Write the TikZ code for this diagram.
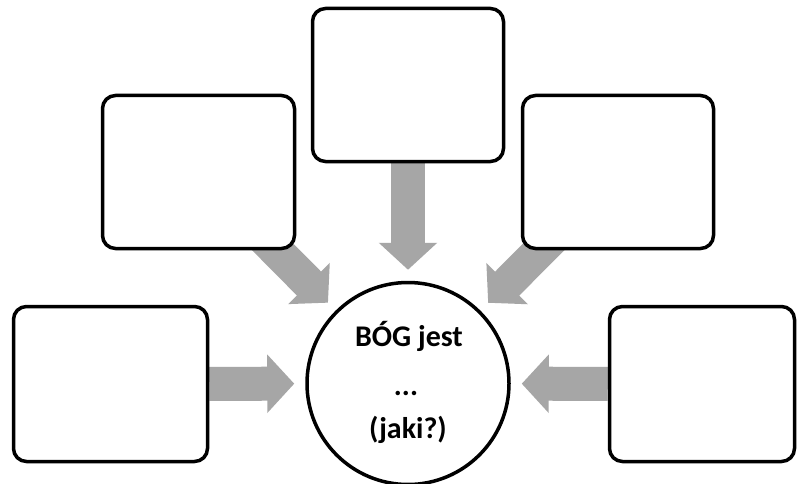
\documentclass[tikz,border=0pt]{standalone}
\usepackage{fontspec}
\setmainfont{Carlito}
\usetikzlibrary{arrows.meta,backgrounds}
\definecolor{arrowgray}{RGB}{166,166,166}
\begin{document}
\begin{tikzpicture}[x=1pt,y=-1pt,
  box/.style={draw=black, line width=3.5pt, fill=white, rounded corners=13pt, inner sep=0pt},
  hub/.style={circle, draw=black, line width=3.5pt, fill=white, inner sep=0pt, minimum size=202pt},
  txt/.style={anchor=base, inner sep=0pt, font=\bfseries\fontsize{30}{30}\selectfont},
  bigarrow/.style={draw=arrowgray, line width=34pt, -{Triangle[width=57pt,length=27pt]}, shorten >=11pt}]
\useasboundingbox (0,0) rectangle (797,484);
\node[box, minimum width=191pt, minimum height=153pt] (t) at (408,85) {};
\node[box, minimum width=192pt, minimum height=153pt] (ul) at (198.5,172) {};
\node[box, minimum width=191pt, minimum height=153pt] (ur) at (618,172) {};
\node[box, minimum width=194pt, minimum height=155pt] (ll) at (110.5,384) {};
\node[box, minimum width=185pt, minimum height=155pt] (lr) at (702,384) {};
\node[hub] (c) at (408,383.5) {};
\node[txt] (l1) at (409,346) {BÓG jest};
\node[txt] (l2) at (406,395) {...};
\node[txt] (l3) at (408,438) {(jaki?)};
\begin{scope}[on background layer]
\fill[white] (0,0) rectangle (797,484);
\draw[bigarrow] (t) -- (c);
\draw[bigarrow] (ul.center) -- (c);
\draw[bigarrow] (ur.center) -- (c);
\draw[bigarrow] (ll) -- (c);
\draw[bigarrow] (lr) -- (c);
\end{scope}
\end{tikzpicture}
\end{document}
